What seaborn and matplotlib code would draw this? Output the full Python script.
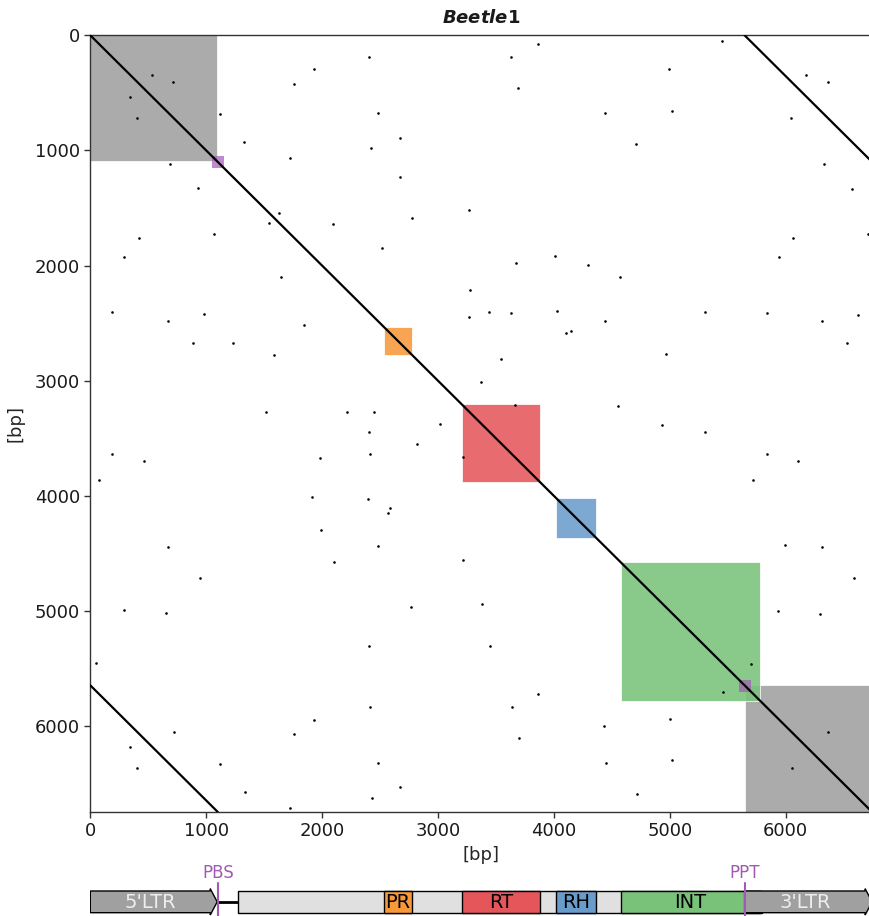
import numpy as np
import pandas as pd
import matplotlib
matplotlib.use("Agg")
import matplotlib.pyplot as plt
from matplotlib.patches import Rectangle, Polygon
import seaborn as sns

# ---------------- data ----------------
seq_len = 6745
feature_names = ["5'LTR", "PR", "RT", "RH", "INT", "3'LTR"]
feature_starts = [0, 2530, 3205, 4022, 4577, 5645]
feature_ends = [1095, 2778, 3882, 4367, 5782, 6745]
feature_colors = ["#a0a0a0", "#f7993b", "#e5565b", "#6a9ccb", "#79c279", "#a0a0a0"]
orf_start, orf_end = 1275, 5796
site_names = ["PBS", "PPT"]
site_pos = [1103, 5647]
site_size = 105
ltr_shift = 5645

# scattered short matches (upper triangle; the self dotplot is symmetric)
dot_x = [2407, 1928, 1760, 532, 716, 1116, 2480, 2670, 2424, 1326, 1723, 2675, 1628, 2097,
         2776, 3270, 2517, 3274,
         3860, 3632, 5453, 4993, 3693, 4441, 5016, 4711, 6178, 6362, 6046, 6330, 6572, 6707,
         6066, 5942, 3673, 4009, 4294, 4570,
         3267, 3443, 3632, 4024, 4438, 4104, 4148, 3546, 3374, 3664,
         5306, 5836, 6316, 6624, 6531, 4965, 4553, 4935, 5306, 5836, 6106, 5720, 5994, 6316,
         6587, 5936, 6296, 5701, 6362]
dot_y = [191, 295, 423, 345, 403, 686, 672, 890, 982, 930, 1069, 1234, 1544, 1642,
         1585, 1515, 1848, 2215,
         76, 191, 52, 293, 460, 672, 655, 944, 345, 403, 721, 1118, 1333, 1726,
         1761, 1929, 1981, 1917, 1993, 2103,
         2450, 2404, 2415, 2395, 2482, 2584, 2569, 2815, 3015, 3212,
         2404, 2413, 2485, 2427, 2673, 2771, 3218, 3380, 3447, 3638, 3699, 3864, 4428, 4448,
         4715, 4999, 5022, 5460, 6050]

# ---------------- style ----------------
sns.set_style("ticks")
plt.rcParams["font.family"] = ["DejaVu Sans"]
plt.rcParams["text.color"] = "0.1"
plt.rcParams["axes.edgecolor"] = "0.2"
plt.rcParams["xtick.color"] = "0.2"
plt.rcParams["ytick.color"] = "0.2"
plt.rcParams["xtick.labelcolor"] = "0.1"
plt.rcParams["ytick.labelcolor"] = "0.1"

W, H = 869, 916
fig = plt.figure(figsize=(W / 100, H / 100), dpi=100)

x0_px, x1_px = 90.3, 872.1
y0_px, y1_px = 35.3, 812.0
ax = fig.add_axes([x0_px / W, 1 - y1_px / H, (x1_px - x0_px) / W, (y1_px - y0_px) / H])

# feature squares on the diagonal (LTRs first, domains on top)
order = [0, 5, 1, 2, 3, 4]
for i in order:
    s, e, c = feature_starts[i], feature_ends[i], feature_colors[i]
    ax.add_patch(Rectangle((s, s), e - s, e - s, facecolor=c, edgecolor="white",
                           linewidth=0.6, alpha=0.88, zorder=1))
purple = "#a259b5"
for p in site_pos:
    ax.add_patch(Rectangle((p - site_size / 2, p - site_size / 2), site_size, site_size,
                           facecolor=purple, edgecolor="none", alpha=0.7, zorder=2))

# scattered matches
dots = pd.DataFrame({"x": dot_x + dot_y, "y": dot_y + dot_x})
sns.scatterplot(data=dots, x="x", y="y", ax=ax, s=3.5, color="black", linewidth=0,
                zorder=3, legend=False)

# diagonal and LTR-vs-LTR matches
segs = pd.DataFrame({
    "x": [0, seq_len, ltr_shift, seq_len, 0, seq_len - ltr_shift],
    "y": [0, seq_len, 0, seq_len - ltr_shift, ltr_shift, seq_len],
    "seg": [0, 0, 1, 1, 2, 2],
})
for k, g in segs.groupby("seg"):
    sns.lineplot(data=g, x="x", y="y", ax=ax, color="black", linewidth=1.6,
                 sort=False, estimator=None, zorder=4)

ax.set_xlim(0, seq_len)
ax.set_ylim(seq_len, 0)
ticks = [0, 1000, 2000, 3000, 4000, 5000, 6000]
ax.set_xticks(ticks)
ax.set_yticks(ticks)
ax.tick_params(labelsize=13, length=4, width=1)
ax.set_xlabel("[bp]", fontsize=13, labelpad=4)
ax.set_ylabel("[bp]", fontsize=13, labelpad=7)
ax.set_title(r"$\bfit{Beetle}\mathbf{1}$", fontsize=13, pad=9)
for sp in ax.spines.values():
    sp.set_linewidth(1.0)

# ---------------- annotation track ----------------
tr = fig.add_axes([x0_px / W, 0, (x1_px - x0_px) / W, 54 / H])
tr.set_xlim(0, seq_len)
tr.set_ylim(0, 54)
tr.axis("off")
ylo, yhi = 3.0, 25.3
ymid = (ylo + yhi) / 2

# connector
tr.plot([feature_ends[0], orf_start], [ymid, ymid], color="black", linewidth=2, zorder=1)
# ORF body
tr.add_patch(Rectangle((orf_start, ylo), orf_end - orf_start, yhi - ylo,
                       facecolor="#e0e0e0", edgecolor="black", linewidth=1.0, zorder=2))
head = 60
for name, s, e, c in zip(feature_names, feature_starts, feature_ends, feature_colors):
    if "LTR" in name:
        pts = [(s, ylo + 0.3), (e - head, ylo + 0.3), (e - head, 1.0), (e, ymid),
               (e - head, yhi + 2.0), (e - head, yhi - 0.3), (s, yhi - 0.3)]
        tr.add_patch(Polygon(pts, closed=True, facecolor=c, edgecolor="black",
                             linewidth=1.0, zorder=4))
        tr.text((s + e - head) / 2, ymid - 0.5, name, ha="center", va="center",
                fontsize=14, color="#eeeeee", zorder=5)
    else:
        tr.add_patch(Rectangle((s, ylo), e - s, yhi - ylo, facecolor=c,
                               edgecolor="black", linewidth=1.0, zorder=3))
        tr.text((s + e) / 2, ymid - 0.5, name, ha="center", va="center",
                fontsize=14, color="black", zorder=5)

for name, p in zip(site_names, site_pos):
    tr.plot([p, p], [0, 33], color=purple, linewidth=1.5, zorder=6)
    tr.text(p, 43, name, ha="center", va="center", fontsize=12, color=purple)

fig.savefig("out.png", dpi=100)
